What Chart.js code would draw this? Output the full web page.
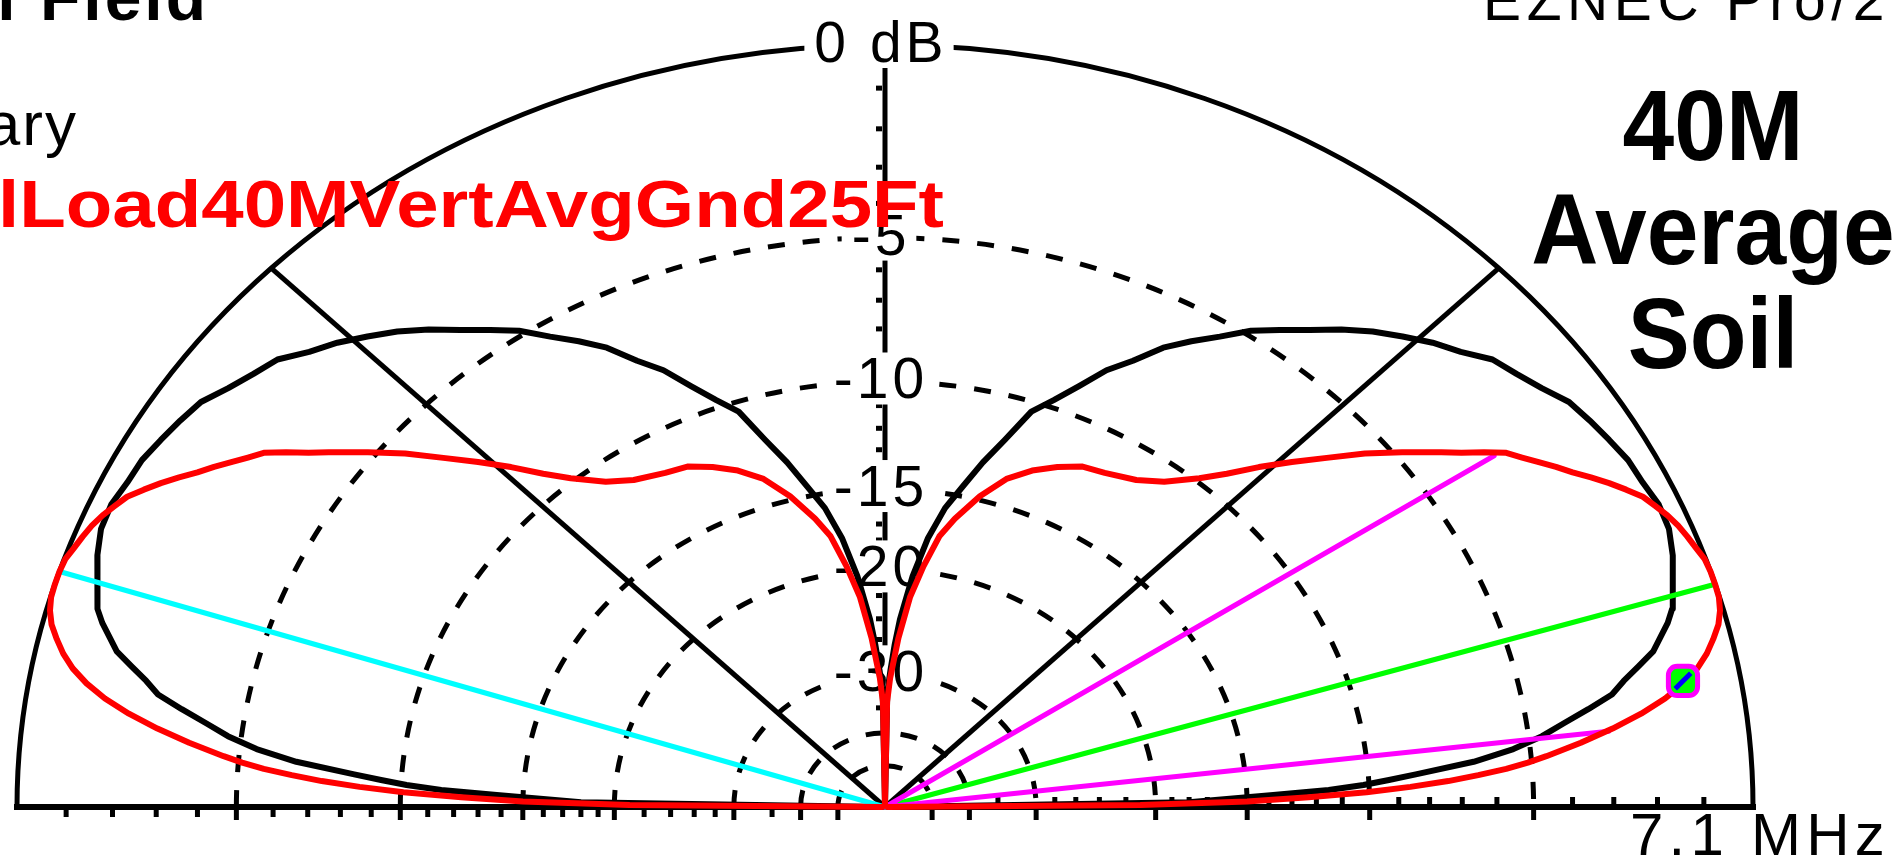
<!DOCTYPE html>
<html>
<head>
<meta charset="utf-8">
<script src="https://cdn.jsdelivr.net/npm/chart.js@4.4.0/dist/chart.umd.min.js"></script>
<style>
  html, body { margin: 0; padding: 0; background: #fff; overflow: hidden; }
  canvas { display: block; }
</style>
</head>
<body>
<canvas id="plot" width="1892" height="857"></canvas>
<script>
// EZNEC elevation plot, ARRL log scale (deg, dB)
const redAngles = [0, 0.5, 1, 1.5, 2, 2.5, 3, 3.5, 4, 4.5, 5, 6, 7, 8, 9, 10, 11, 12, 13, 14,
  15, 16, 17, 18, 19, 20, 21, 22, 23, 24, 25, 26, 27, 28, 29, 30, 31, 32, 33, 34,
  35, 36, 38, 40, 42, 44, 46, 48, 50, 53, 56, 60, 63, 66, 69, 72, 75, 78, 80, 82,
  84, 86, 88, 89, 90];
const redGains = [-99, -21, -15, -12.3, -10.1, -8.6, -7.4, -6.5, -5.7, -5.1, -4.6, -3.7, -2.9, -2.2, -1.62, -1.17, -0.82, -0.56, -0.36, -0.18,
  -0.07, -0.01, 0, 0, -0.02, -0.1, -0.17, -0.25, -0.36, -0.5, -0.64, -0.88, -1.13, -1.41, -1.7, -1.95, -2.22, -2.48, -2.72, -3.15,
  -3.6, -4.0, -4.8, -5.6, -6.5, -7.35, -8.2, -9.1, -9.85, -10.75, -11.3, -11.68, -11.85, -12.3, -12.85, -13.6, -14.8, -16.3, -17.5, -19.6,
  -22.0, -25.8, -30.5, -34, -99];

const blackAngles = [0, 1, 2, 2.5, 3, 3.5, 4, 5, 6, 7, 8, 9, 10, 11, 12, 13, 14, 15, 16, 18,
  20, 22, 24, 26, 28, 30, 32, 34, 36, 38, 40, 42, 44, 46, 48, 50, 52, 54, 56, 58,
  60, 62, 64, 66, 68, 70, 72, 74, 76, 78, 80, 82, 84, 86, 87, 88, 89, 90];
const blackGains = [-99, -18, -13.8, -11.5, -10.2, -9.3, -8.4, -6.6, -5.45, -4.65, -4.05, -3.4, -2.78, -2.45, -2.05, -1.65, -1.42, -1.18, -1.0, -0.8,
  -0.6, -0.45, -0.42, -0.5, -0.53, -0.64, -0.75, -0.87, -1.15, -1.37, -1.55, -1.95, -2.25, -2.62, -3.0, -3.45, -3.95, -4.4, -4.85, -5.45,
  -5.98, -6.55, -7.35, -8.0, -8.9, -9.7, -10.4, -11.85, -13.1, -14.5, -15.8, -17.7, -20.4, -24, -26.5, -29.5, -32.5, -99];

const ringDb = [-5, -10, -15, -20, -30, -40, -50];
const ringLabels = ['0 dB', '-5', '-10', '-15', '-20', '-30'];
const ringLabelDb = [0, -5, -10, -15, -20, -30];
const tickDb = [-1, -2, -3, -4, -6, -7, -8, -9, -11, -12, -13, -14, -16, -17, -18, -19, -22, -24, -26, -28, -35];
const radialAngles = [45, 135];

// max gain lines and -3 dB beamwidth lines
const maxAngles = [17, 162];
const maxGains = [0, 0];
const halfPowerAngles = [33.3, 6.8];
const halfPowerGains = [-3, -3];
const cursorAngle = 10.2;
const cursorGain = -1.17;

// pixel layout of the plot (origin and 0 dB radii)
const ORIGIN_X = 885, ORIGIN_Y = 807, RAD_X = 868, RAD_Y = 762;
const W = 1892, H = 857;

function toRadius(db) { return Math.pow(0.89, -db / 2); }
function polar(angle, db) {
  const r = toRadius(db);
  const a = angle * Math.PI / 180;
  return { x: r * Math.cos(a), y: r * Math.sin(a) };
}
function fullPattern(angles, gains) {
  const pts = angles.map((a, i) => polar(a, gains[i]));
  for (let i = angles.length - 2; i >= 0; i--) pts.push(polar(180 - angles[i], gains[i]));
  return pts;
}

const FONT = '"Liberation Sans", Arial, sans-serif';

const gridPlugin = {
  id: 'grid',
  beforeDatasetsDraw(chart) {
    const ctx = chart.ctx;
    const xs = chart.scales.x, ys = chart.scales.y;
    const cx = xs.getPixelForValue(0), cy = ys.getPixelForValue(0);
    const rx = xs.getPixelForValue(1) - cx, ry = cy - ys.getPixelForValue(1);
    const seg = (x1, y1, x2, y2) => { ctx.beginPath(); ctx.moveTo(x1, y1); ctx.lineTo(x2, y2); ctx.stroke(); };

    ctx.save();
    ctx.strokeStyle = '#000';
    ctx.lineWidth = 5;
    ctx.setLineDash([17, 18]);
    ringDb.forEach(db => {
      const r = toRadius(db);
      ctx.beginPath();
      ctx.ellipse(cx, cy, rx * r, ry * r, 0, Math.PI, 2 * Math.PI);
      ctx.stroke();
    });
    ctx.setLineDash([]);
    ctx.beginPath();
    ctx.ellipse(cx, cy, rx, ry, 0, Math.PI, 2 * Math.PI);
    ctx.stroke();

    radialAngles.forEach(a => {
      const p = polar(a, 0);
      seg(cx, cy, xs.getPixelForValue(p.x), ys.getPixelForValue(p.y));
    });
    seg(cx, cy, cx, cy - ry);
    ctx.lineWidth = 6;
    seg(cx - rx - 3, cy, cx + rx + 3, cy);

    // dB ticks along baseline and vertical axis
    ctx.lineWidth = 5;
    tickDb.forEach(db => {
      const r = toRadius(db);
      seg(cx - rx * r, cy + 3, cx - rx * r, cy + 10);
      seg(cx + rx * r, cy - 3, cx + rx * r, cy - 10);
      seg(cx - 3, cy - ry * r, cx - 9, cy - ry * r);
    });
    ringDb.forEach(db => {
      const r = toRadius(db);
      seg(cx - rx * r, cy + 3, cx - rx * r, cy + 13);
      seg(cx + rx * r, cy + 3, cx + rx * r, cy + 13);
    });

    // ring labels on the vertical axis
    ctx.font = '57px ' + FONT;
    ctx.letterSpacing = '4px';
    ctx.textBaseline = 'alphabetic';
    ringLabelDb.forEach((db, i) => {
      const y = cy - ry * toRadius(db) + 17;
      const w = ctx.measureText(ringLabels[i]).width;
      const x0 = cx - 4 - w / 2;
      ctx.fillStyle = '#fff';
      ctx.fillRect(x0 - 10, y - 46, w + 16, 52);
      ctx.fillStyle = '#000';
      ctx.fillText(ringLabels[i], x0, y);
    });
    ctx.restore();
  }
};

function spaced(ctx, str, x0, x1, y) {
  ctx.letterSpacing = '0px';
  const w = ctx.measureText(str).width;
  ctx.letterSpacing = ((x1 - x0 - w) / Math.max(1, str.length)) + 'px';
  ctx.fillText(str, x0, y);
  ctx.letterSpacing = '0px';
}
function stretched(ctx, str, x0, x1, y) {
  const w = ctx.measureText(str).width;
  ctx.save();
  ctx.translate(x0, y);
  ctx.scale((x1 - x0) / w, 1);
  ctx.fillText(str, 0, 0);
  ctx.restore();
}

const textPlugin = {
  id: 'texts',
  afterDraw(chart) {
    const ctx = chart.ctx;
    ctx.save();
    ctx.textBaseline = 'alphabetic';
    ctx.textAlign = 'left';
    ctx.fillStyle = '#000';

    ctx.font = 'bold 66px ' + FONT;
    ctx.letterSpacing = '3px';
    const wT = ctx.measureText('Total ').width;
    ctx.fillText('Total Field', 40 - wT, 20);
    ctx.letterSpacing = '0px';

    ctx.font = '62px ' + FONT;
    ctx.textAlign = 'right';
    ctx.letterSpacing = '2px';
    ctx.fillText('Primary', 78, 145);
    ctx.letterSpacing = '0px';
    ctx.textAlign = 'left';

    ctx.fillStyle = '#ff0000';
    ctx.font = 'bold 66px ' + FONT;
    stretched(ctx, 'lLoad40MVertAvgGnd25Ft', -2, 944, 227);

    ctx.fillStyle = '#000';
    ctx.font = '57px ' + FONT;
    spaced(ctx, 'EZNEC Pro/2', 1483, 1890, 20);
    ctx.font = '60px ' + FONT;
    spaced(ctx, '7.1 MHz', 1630, 1890, 855);

    ctx.font = 'bold 100px ' + FONT;
    ctx.textAlign = 'center';
    [['40M', 160], ['Average', 264], ['Soil', 368]].forEach(([s, y]) => {
      ctx.save();
      ctx.translate(1713, y);
      ctx.scale(0.93, 1);
      ctx.fillText(s, 0, 0);
      ctx.restore();
    });
    ctx.restore();
  }
};

const lineSet = (data, color, width, order) => ({
  data, showLine: true, borderColor: color, borderWidth: width, pointRadius: 0, order
});

const origin = { x: 0, y: 0 };
const datasets = [
  {
    data: [polar(cursorAngle, cursorGain)], pointStyle: 'line', pointRotation: -45,
    pointRadius: 11, pointBorderWidth: 5, pointBorderColor: '#0000ff', order: 0
  },
  {
    data: [polar(cursorAngle, cursorGain)], pointStyle: 'rectRounded', pointRadius: 17,
    pointBorderWidth: 5, pointBorderColor: '#ff00ff', pointBackgroundColor: '#00ff00', order: 1
  },
  lineSet(fullPattern(redAngles, redGains), '#ff0000', 6, 2),
  lineSet([polar(halfPowerAngles[0], halfPowerGains[0]), origin, polar(halfPowerAngles[1], halfPowerGains[1])], '#ff00ff', 5, 3),
  lineSet([origin, polar(maxAngles[0], maxGains[0])], '#00ff00', 5, 4),
  lineSet([origin, polar(maxAngles[1], maxGains[1])], '#00ffff', 5, 5),
  lineSet(fullPattern(blackAngles, blackGains), '#000000', 6, 6)
];

new Chart(document.getElementById('plot'), {
  type: 'scatter',
  data: { datasets },
  options: {
    responsive: false,
    animation: false,
    events: [],
    layout: { padding: 0, autoPadding: false },
    plugins: { legend: { display: false }, tooltip: { enabled: false } },
    elements: { line: { tension: 0, borderJoinStyle: 'round', borderCapStyle: 'round' } },
    scales: {
      x: { type: 'linear', display: false, min: -ORIGIN_X / RAD_X, max: (W - ORIGIN_X) / RAD_X },
      y: { type: 'linear', display: false, min: -(H - ORIGIN_Y) / RAD_Y, max: ORIGIN_Y / RAD_Y }
    }
  },
  plugins: [gridPlugin, textPlugin]
});
</script>
</body>
</html>
